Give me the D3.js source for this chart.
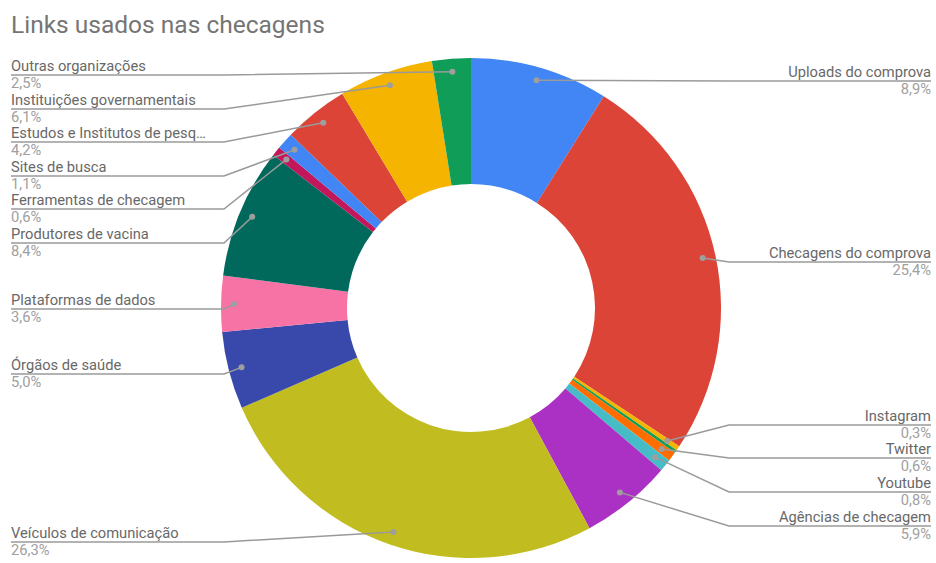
<!DOCTYPE html>
<html>
<head>
<meta charset="utf-8">
<script src="https://cdn.jsdelivr.net/npm/d3@7"></script>
<style>
  html, body { margin: 0; padding: 0; background: #fff; }
  svg { display: block; font-family: Roboto, "Noto Sans", Arial, sans-serif; }
</style>
</head>
<body>
<svg id="chart" width="936" height="563"></svg>
<script>
// Link sources, clockwise from 12 o'clock
const categories = [
  "Uploads do comprova", "Checagens do comprova", "Instagram", "Outras redes",
  "Twitter", "Youtube", "Agências de checagem", "Veículos de comunicação",
  "Órgãos de saúde", "Plataformas de dados", "Produtores de vacina",
  "Ferramentas de checagem", "Sites de busca", "Estudos e Institutos de pesquisa",
  "Instituições governamentais", "Outras organizações"
];
// Share of links (%)
const shares = [8.9, 25.4, 0.3, 0.2, 0.6, 0.8, 5.9, 26.3, 5.0, 3.6, 8.4, 0.6, 1.1, 4.2, 6.1, 2.5];
const sliceColors = [
  "#4285f4", "#db4437", "#f4b400", "#0f9d58", "#ff6d00", "#46bdc6", "#ab30c4", "#c1bc1f",
  "#3949ab", "#f773a6", "#00695c", "#c2185b", "#4285f4", "#db4437", "#f4b400", "#0f9d58"
];
// Slices too thin to carry a label
const unlabeled = ["Outras redes"];

// Label rows (y of the leader underline) on each side of the ring
const labelRows = {
  "Uploads do comprova": 81, "Checagens do comprova": 262, "Instagram": 425,
  "Twitter": 458, "Youtube": 492, "Agências de checagem": 526,
  "Veículos de comunicação": 542, "Órgãos de saúde": 374, "Plataformas de dados": 309,
  "Produtores de vacina": 243, "Ferramentas de checagem": 209, "Sites de busca": 176,
  "Estudos e Institutos de pesquisa": 142, "Instituições governamentais": 109,
  "Outras organizações": 75
};

const W = 936, H = 563;
const cx = 471, cy = 308, rOuter = 250, rInner = 124, rDot = 237;
const leftX = 11, rightX = 931, leftElbow = 224, rightElbow = 729;
const maxLabelWidth = 198;
const labelSize = 14.7;

const svg = d3.select("#chart");
svg.append("rect").attr("width", W).attr("height", H).attr("fill", "#fff");

svg.append("text")
  .attr("x", 11).attr("y", 33)
  .attr("font-size", 24.5).attr("fill", "#757575")
  .text("Links usados nas checagens");

const data = categories.map((c, i) => ({ name: c, value: shares[i], color: sliceColors[i] }));
const pie = d3.pie().sort(null).value(d => d.value);
const arcs = pie(data);
const arc = d3.arc().innerRadius(rInner).outerRadius(rOuter);
const dotArc = d3.arc().innerRadius(rDot).outerRadius(rDot);

const g = svg.append("g").attr("transform", `translate(${cx},${cy})`);
g.selectAll("path.slice").data(arcs).join("path")
  .attr("class", "slice")
  .attr("d", arc)
  .attr("fill", d => d.data.color);

const fmt = v => d3.format(".1f")(v).replace(".", ",") + "%";

// Labels with leader lines
const labelled = arcs.filter(a => !unlabeled.includes(a.data.name));
const lg = svg.append("g");
labelled.forEach(a => {
  const [dx, dy] = dotArc.centroid(a);
  const px = cx + dx, py = cy + dy;
  const mid = (a.startAngle + a.endAngle) / 2;
  const right = mid < Math.PI;
  const y = labelRows[a.data.name];
  const edgeX = right ? rightX : leftX;
  const elbowX = right ? Math.max(rightElbow, px) : Math.min(leftElbow, px);

  lg.append("polyline")
    .attr("points", `${edgeX},${y} ${elbowX},${y} ${px},${py}`)
    .attr("fill", "none").attr("stroke", "#9a9a9a").attr("stroke-width", 1.5);
  lg.append("circle").attr("cx", px).attr("cy", py).attr("r", 3).attr("fill", "#9e9e9e");

  const name = lg.append("text")
    .attr("x", edgeX).attr("y", y - 4)
    .attr("text-anchor", right ? "end" : "start")
    .attr("font-size", labelSize).attr("fill", "#686868")
    .text(a.data.name);
  // Shorten long names with an ellipsis
  let s = a.data.name;
  while (name.node().getComputedTextLength() > maxLabelWidth && s.length > 1) {
    s = s.slice(0, -1);
    name.text(s.trimEnd() + "…");
  }
  lg.append("text")
    .attr("x", edgeX).attr("y", y + 12.5)
    .attr("text-anchor", right ? "end" : "start")
    .attr("font-size", labelSize).attr("fill", "#a0a0a0")
    .text(fmt(a.data.value));
});
</script>
</body>
</html>
